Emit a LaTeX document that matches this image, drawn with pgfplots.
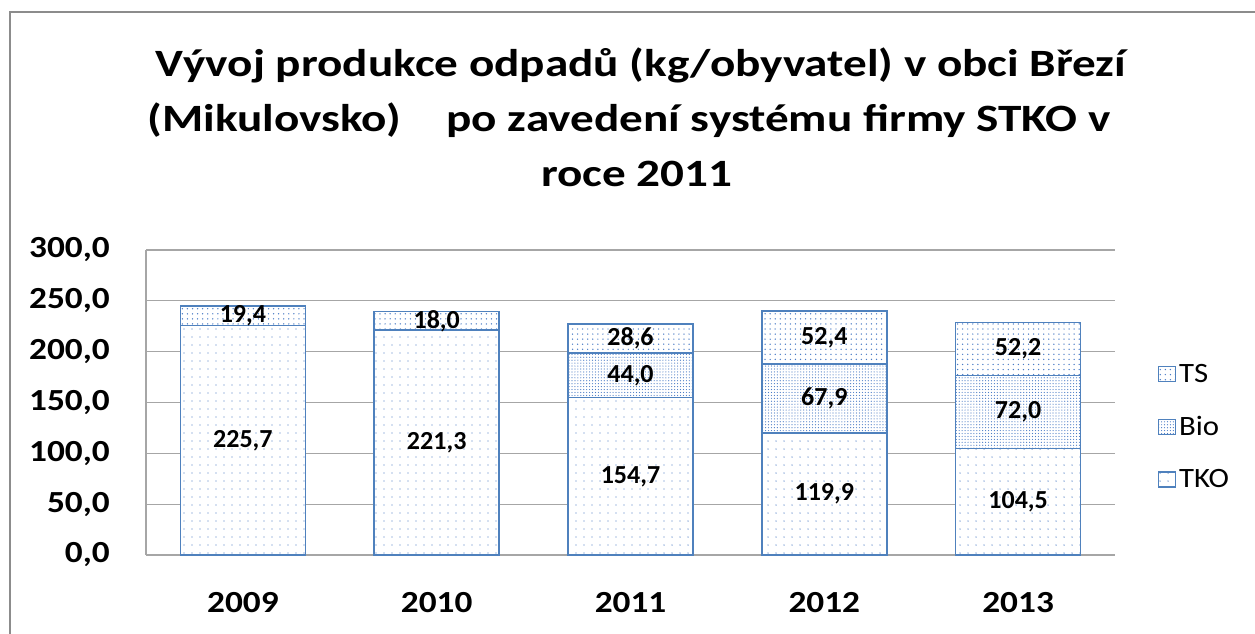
\documentclass[border=0pt]{standalone}
\usepackage{pgfplots}
\usepackage{pgfplotstable}
\pgfplotsset{compat=1.18}
\usepackage{fontspec}
\setmainfont{Carlito}
\newfontfamily\titlefont[FakeStretch=1.22]{Carlito}
\newfontfamily\tickfont[FakeStretch=1.15]{Carlito}
\newfontfamily\legfont[FakeStretch=1.1]{Carlito}
\usetikzlibrary{patterns.meta}
\definecolor{edge}{HTML}{4F81BD}
\definecolor{dotc}{HTML}{4A7CC6}
\definecolor{gridc}{HTML}{A6A6A6}
\definecolor{framec}{HTML}{8C8C8C}

\pgfplotstableread{
x tko tkol bio biol ts tsl
0 225.7 225,7 0    {}   19.4 19,4
1 221.3 221,3 0    {}   18.0 18,0
2 154.7 154,7 44.0 44,0 28.6 28,6
3 119.9 119,9 67.9 67,9 52.4 52,4
4 104.5 104,5 72.0 72,0 52.2 52,2
}\data

\begin{document}
\begin{tikzpicture}[x=0.75pt,y=0.75pt]
\useasboundingbox (0,0) rectangle (1255,633);
\draw[framec, line width=1.5pt] (10,-40) -- (10,621) -- (1300,621);
\node[font=\titlefont\bfseries\fontsize{29}{35}\selectfont, anchor=base] at (641,556) {Vývoj produkce odpadů (kg/obyvatel) v obci Březí};
\node[font=\titlefont\bfseries\fontsize{29}{35}\selectfont, anchor=base] at (629,501) {(Mikulovsko)\hspace{26pt} po zavedení systému firmy STKO v};
\node[font=\titlefont\bfseries\fontsize{29}{35}\selectfont, anchor=base] at (637,446) {roce 2011};
\begin{axis}[
  scale only axis, width=726.75pt, height=228.75pt,
  anchor=south west, at={(109.5pt,58.5pt)},
  ybar stacked, bar width=93.75pt,
  xmin=-0.5, xmax=4.5, ymin=0, ymax=300,
  xtick={0,1,2,3,4}, xticklabels={2009,2010,2011,2012,2013},
  ytick={0,50,...,300},
  ymajorgrids, grid style={gridc, line width=0.9pt},
  axis x line*=bottom, axis y line*=left,
  axis line style={gridc, line width=0.9pt, -},
  major tick length=0pt, tick style={draw=none},
  /pgf/number format/.cd, fixed, fixed zerofill, precision=1, use comma, assume math mode=true,
  /pgfplots/.cd,
  yticklabel={\pgfmathprintnumber{\tick}},
  yticklabel style={font=\tickfont\bfseries\fontsize{23}{26}\selectfont, anchor=east, inner sep=0pt, xshift=-27pt},
  xticklabel style={font=\tickfont\bfseries\fontsize{23}{26}\selectfont, anchor=north, inner sep=0pt, yshift=-27.75pt},
  point meta=explicit symbolic,
  nodes near coords={\pgfplotspointmeta},
  every node near coord/.append style={font=\bfseries\fontsize{19.5}{22}\selectfont, anchor=center},
  reverse legend,
  legend style={draw=none, fill=none, at={(1.040,0.42)}, anchor=west, font=\legfont\fontsize{21}{24}\selectfont, row sep=20pt, legend cell align=left},
  legend image code/.code={\draw[#1] (0pt,-5.6pt) rectangle (12.75pt,5.6pt);},
]
\addplot[draw=edge, line width=1.1pt, fill=white, postaction={pattern={Dots[radius=0.55pt, distance=6pt]}, pattern color=dotc}]
  table[x=x, y=tko, meta=tkol] {\data};
\addlegendentry{TKO}
\addplot[draw=edge, line width=1.1pt, fill=white, postaction={pattern={Dots[radius=0.45pt, distance=2.2pt]}, pattern color=dotc}]
  table[x=x, y=bio, meta=biol] {\data};
\addlegendentry{Bio}
\addplot[draw=edge, line width=1.1pt, fill=white, postaction={pattern={Dots[radius=0.55pt, distance=3.8pt]}, pattern color=dotc}]
  table[x=x, y=ts, meta=tsl] {\data};
\addlegendentry{TS}
\end{axis}
\end{tikzpicture}
\end{document}
